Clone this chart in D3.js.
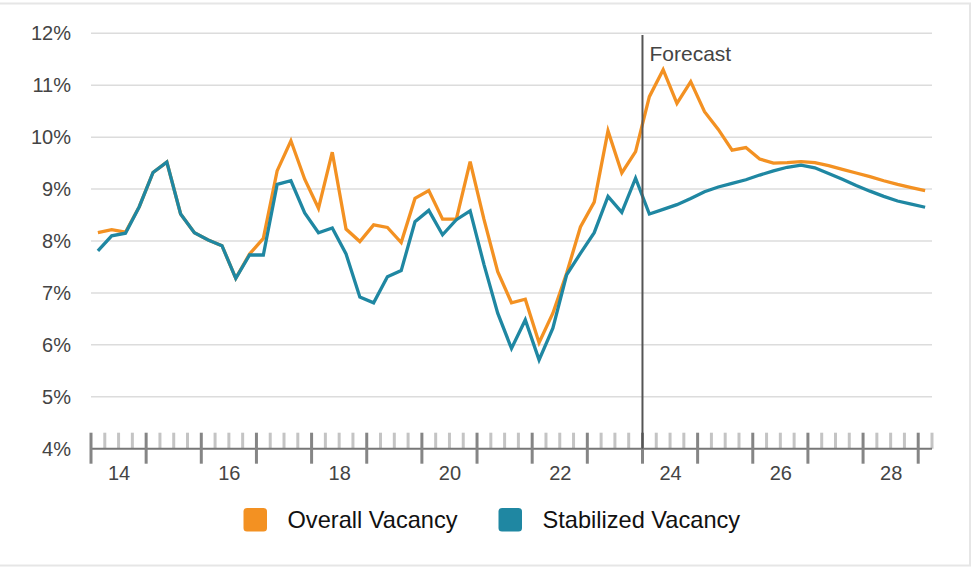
<!DOCTYPE html>
<html>
<head>
<meta charset="utf-8">
<script src="https://cdn.jsdelivr.net/npm/d3@7"></script>
<style>
  body { margin: 0; background: #fff; }
  svg { display: block; font-family: "Liberation Sans", Arial, Helvetica, sans-serif; }
</style>
</head>
<body>
<div id="chart"></div>
<script>
const quarters = [
  '2014Q1', '2014Q2', '2014Q3', '2014Q4',
  '2015Q1', '2015Q2', '2015Q3', '2015Q4',
  '2016Q1', '2016Q2', '2016Q3', '2016Q4',
  '2017Q1', '2017Q2', '2017Q3', '2017Q4',
  '2018Q1', '2018Q2', '2018Q3', '2018Q4',
  '2019Q1', '2019Q2', '2019Q3', '2019Q4',
  '2020Q1', '2020Q2', '2020Q3', '2020Q4',
  '2021Q1', '2021Q2', '2021Q3', '2021Q4',
  '2022Q1', '2022Q2', '2022Q3', '2022Q4',
  '2023Q1', '2023Q2', '2023Q3', '2023Q4',
  '2024Q1', '2024Q2', '2024Q3', '2024Q4',
  '2025Q1', '2025Q2', '2025Q3', '2025Q4',
  '2026Q1', '2026Q2', '2026Q3', '2026Q4',
  '2027Q1', '2027Q2', '2027Q3', '2027Q4',
  '2028Q1', '2028Q2', '2028Q3', '2028Q4',
  '2029Q1'
];

const overallVacancy = [
  8.16, 8.22, 8.17, 8.66,
  9.32, 9.52, 8.52, 8.16,
  8.02, 7.91, 7.28, 7.75,
  8.05, 9.35, 9.93, 9.19,
  8.63, 9.71, 8.23, 7.99,
  8.31, 8.26, 7.97, 8.82,
  8.97, 8.42, 8.42, 9.53,
  8.42, 7.41, 6.81, 6.88,
  6.04, 6.61, 7.38, 8.27,
  8.75, 10.12, 9.31, 9.72,
  10.78, 11.30, 10.65, 11.07,
  10.49, 10.15, 9.75, 9.80,
  9.58, 9.50, 9.51, 9.53,
  9.51, 9.45, 9.38, 9.31,
  9.24, 9.16, 9.09, 9.03,
  8.97
];

const stabilizedVacancy = [
  7.81, 8.10, 8.15, 8.66,
  9.32, 9.52, 8.52, 8.16,
  8.02, 7.91, 7.28, 7.73,
  7.73, 9.09, 9.16, 8.54,
  8.16, 8.25, 7.75, 6.92,
  6.81, 7.31, 7.43, 8.37,
  8.59, 8.12, 8.41, 8.58,
  7.55, 6.61, 5.93, 6.48,
  5.71, 6.32, 7.35, 7.76,
  8.16, 8.86, 8.55, 9.21,
  8.52, 8.61, 8.70, 8.82,
  8.95, 9.04, 9.11, 9.18,
  9.27, 9.35, 9.42, 9.46,
  9.41, 9.30, 9.19, 9.07,
  8.96, 8.86, 8.77, 8.71,
  8.65
];

const yTicks = [4, 5, 6, 7, 8, 9, 10, 11, 12];
const labelYears = [2014, 2016, 2018, 2020, 2022, 2024, 2026, 2028];
const forecastStart = 2024;

const seriesNames = ['Overall Vacancy', 'Stabilized Vacancy'];
const seriesColors = ['#f39122', '#1f87a2'];

const width = 978;
const height = 567;

// quarter label -> position in years, points sit mid-quarter
function quarterPos(label) {
  const parts = label.split('Q');
  return +parts[0] + (+parts[1] - 1) / 4 + 0.125;
}

const svg = d3.select('#chart')
  .append('svg')
  .attr('width', width)
  .attr('height', height);

// outer frame
svg.append('rect')
  .attr('x', -2)
  .attr('y', 3.5)
  .attr('width', 972)
  .attr('height', 562)
  .attr('fill', 'none')
  .attr('stroke', '#e6e6e6')
  .attr('stroke-width', 2);

const x = d3.scaleLinear()
  .domain([2014, 2029.25])
  .range([91, 932]);

const y = d3.scaleLinear()
  .domain([4, 12])
  .range([448.7, 33.3]);

// grid lines
svg.append('g')
  .selectAll('line')
  .data(yTicks.filter(d => d > 4))
  .enter()
  .append('line')
  .attr('x1', x.range()[0])
  .attr('x2', x.range()[1])
  .attr('y1', d => y(d))
  .attr('y2', d => y(d))
  .attr('stroke', '#dcdcdc')
  .attr('stroke-width', 1.5);

// y labels
const yAxis = svg.append('g')
  .attr('transform', 'translate(71, 0)')
  .call(d3.axisLeft(y).tickValues(yTicks).tickSize(0).tickPadding(0).tickFormat(d => d + '%'));
yAxis.select('.domain').remove();
yAxis.selectAll('text')
  .attr('font-size', 20)
  .attr('font-family', '"Liberation Sans", Arial, sans-serif')
  .attr('fill', '#444');

// x axis: minor quarter ticks, major year ticks, baseline
const axisY = y(4);
const minorTicks = d3.range(2014.25, 2029.26, 0.25).filter(d => Math.abs(d - Math.round(d)) > 0.01);
const majorTicks = d3.range(2014, 2030, 1);

svg.append('g')
  .selectAll('line')
  .data(minorTicks)
  .enter()
  .append('line')
  .attr('x1', d => x(d))
  .attr('x2', d => x(d))
  .attr('y1', axisY - 16)
  .attr('y2', axisY)
  .attr('stroke', '#c4c4c4')
  .attr('stroke-width', 3);

svg.append('line')
  .attr('x1', x.range()[0])
  .attr('x2', x.range()[1])
  .attr('y1', axisY)
  .attr('y2', axisY)
  .attr('stroke', '#777')
  .attr('stroke-width', 2);

svg.append('g')
  .selectAll('line')
  .data(majorTicks)
  .enter()
  .append('line')
  .attr('x1', d => x(d))
  .attr('x2', d => x(d))
  .attr('y1', axisY - 16)
  .attr('y2', axisY + 15)
  .attr('stroke', '#858585')
  .attr('stroke-width', 3);

const xAxis = svg.append('g')
  .attr('transform', `translate(0, ${axisY})`)
  .call(d3.axisBottom(x)
    .tickValues(labelYears.map(d => d + 0.5))
    .tickSize(0)
    .tickPadding(17)
    .tickFormat(d => String(Math.floor(d)).slice(2)));
xAxis.select('.domain').remove();
xAxis.selectAll('text')
  .attr('font-size', 20)
  .attr('font-family', '"Liberation Sans", Arial, sans-serif')
  .attr('fill', '#444');

// series lines
const series = [overallVacancy, stabilizedVacancy];
const line = d3.line()
  .x((d, i) => x(quarterPos(quarters[i])))
  .y(d => y(d));

svg.append('g')
  .selectAll('path')
  .data(series)
  .enter()
  .append('path')
  .attr('d', d => line(d))
  .attr('fill', 'none')
  .attr('stroke', (d, i) => seriesColors[i])
  .attr('stroke-width', 3.3)
  .attr('stroke-linejoin', 'miter');

// forecast marker
svg.append('line')
  .attr('x1', x(forecastStart))
  .attr('x2', x(forecastStart))
  .attr('y1', 35)
  .attr('y2', axisY)
  .attr('stroke', '#555')
  .attr('stroke-width', 2);

svg.append('text')
  .attr('x', x(forecastStart) + 7)
  .attr('y', 60.5)
  .attr('font-size', 21)
  .attr('fill', '#444')
  .text('Forecast');

// legend
const legendX = [243.5, 498.5];
const legend = svg.append('g')
  .selectAll('g')
  .data(seriesNames)
  .enter()
  .append('g')
  .attr('transform', (d, i) => `translate(${legendX[i]}, 508)`);

legend.append('rect')
  .attr('width', 23.5)
  .attr('height', 23.5)
  .attr('rx', 3.5)
  .attr('fill', (d, i) => seriesColors[i]);

legend.append('text')
  .attr('x', 44)
  .attr('y', 12)
  .attr('dy', '0.35em')
  .attr('font-size', 23.6)
  .attr('fill', '#111')
  .text(d => d);
</script>
</body>
</html>
